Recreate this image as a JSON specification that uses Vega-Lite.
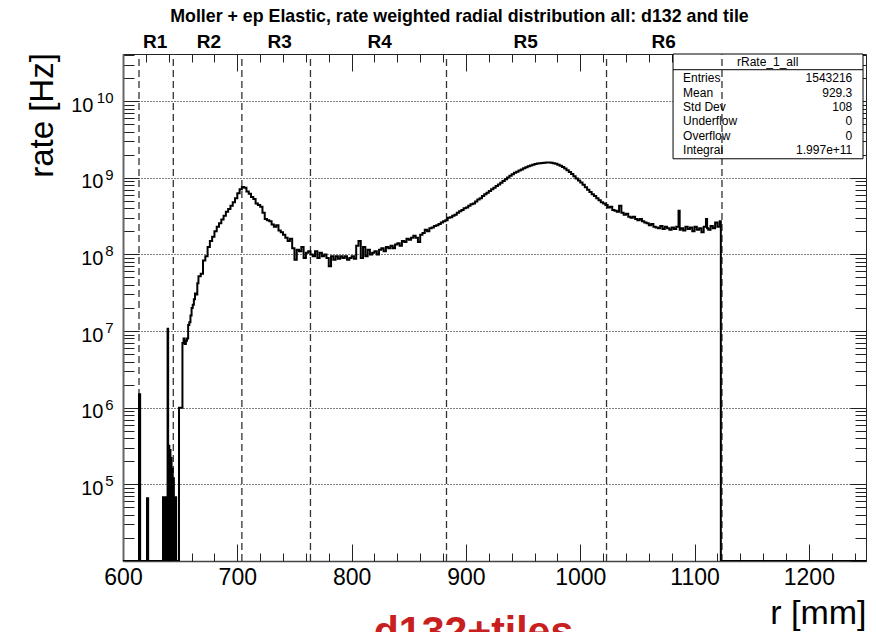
{
  "$schema": "https://vega.github.io/schema/vega-lite/v6.json",
  "width": 743,
  "height": 507,
  "autosize": {"type": "none"},
  "padding": {"left": 123, "top": 54, "right": 10, "bottom": 71},
  "background": "white",
  "title": {
    "text": "Moller + ep Elastic, rate weighted radial distribution all: d132 and tile",
    "font": "Liberation Sans",
    "fontSize": 17.8,
    "fontWeight": "bold",
    "color": "#000",
    "anchor": "middle",
    "frame": "group",
    "dx": -35,
    "offset": 6
  },
  "datasets": {
    "hist": [
      {"r": 600, "rate": 1e4}, {"r": 614, "rate": 1.5e6}, {"r": 615, "rate": 1e4}, {"r": 621, "rate": 6.6e4}, {"r": 622, "rate": 1e4},
      {"r": 635, "rate": 6.8e4}, {"r": 635.5, "rate": 1e4}, {"r": 636, "rate": 6.8e4}, {"r": 636.5, "rate": 1e4}, {"r": 637, "rate": 6.8e4},
      {"r": 637.5, "rate": 1e4}, {"r": 638, "rate": 6.8e4}, {"r": 638.5, "rate": 1e4}, {"r": 639, "rate": 1.07e7}, {"r": 639.5, "rate": 1e4},
      {"r": 640, "rate": 3.2e5}, {"r": 640.5, "rate": 1e4}, {"r": 641, "rate": 2.8e5}, {"r": 641.5, "rate": 1e4}, {"r": 642, "rate": 2.2e5},
      {"r": 642.5, "rate": 1e4}, {"r": 643, "rate": 1.6e5}, {"r": 643.5, "rate": 1e4}, {"r": 644, "rate": 1.2e5}, {"r": 644.5, "rate": 1e4},
      {"r": 645, "rate": 6.8e4}, {"r": 645.5, "rate": 1e4}, {"r": 646, "rate": 6.8e4}, {"r": 646.5, "rate": 1e4}, {"r": 647, "rate": 1e4},
      {"r": 649, "rate": 1.0e6}, {"r": 652, "rate": 7.0e6}, {"r": 653, "rate": 8.0e6}, {"r": 654, "rate": 6.8e6}, {"r": 655, "rate": 7.5e6},
      {"r": 656, "rate": 8.0e6}, {"r": 657, "rate": 1.2e7}, {"r": 658, "rate": 1.3e7}, {"r": 659, "rate": 1.6e7}, {"r": 660, "rate": 2.0e7},
      {"r": 661, "rate": 2.2e7}, {"r": 662, "rate": 2.6e7}, {"r": 663, "rate": 3.1e7}, {"r": 664, "rate": 3.0e7}, {"r": 665, "rate": 4.2e7},
      {"r": 666, "rate": 5.2e7}, {"r": 668, "rate": 5.6e7}, {"r": 670, "rate": 8.3e7}, {"r": 672, "rate": 9.5e7}, {"r": 674, "rate": 1.25e8},
      {"r": 676, "rate": 1.5e8}, {"r": 678, "rate": 1.7e8}, {"r": 680, "rate": 2.0e8}, {"r": 682, "rate": 2.3e8}, {"r": 684, "rate": 2.55e8},
      {"r": 686, "rate": 2.85e8}, {"r": 688, "rate": 3.2e8}, {"r": 690, "rate": 3.6e8}, {"r": 692, "rate": 3.9e8}, {"r": 694, "rate": 4.3e8},
      {"r": 696, "rate": 4.8e8}, {"r": 698, "rate": 5.4e8}, {"r": 700, "rate": 6.3e8}, {"r": 702, "rate": 7.1e8}, {"r": 704, "rate": 7.6e8},
      {"r": 706, "rate": 7.4e8}, {"r": 708, "rate": 6.6e8}, {"r": 710, "rate": 6.2e8}, {"r": 712, "rate": 5.6e8}, {"r": 714, "rate": 5.3e8},
      {"r": 716, "rate": 4.6e8}, {"r": 718, "rate": 4.4e8}, {"r": 720, "rate": 4.2e8}, {"r": 722, "rate": 3.5e8}, {"r": 724, "rate": 2.9e8},
      {"r": 726, "rate": 2.8e8}, {"r": 728, "rate": 2.7e8}, {"r": 730, "rate": 2.45e8}, {"r": 732, "rate": 2.3e8}, {"r": 734, "rate": 2.4e8},
      {"r": 736, "rate": 2.05e8}, {"r": 738, "rate": 1.95e8}, {"r": 740, "rate": 1.8e8}, {"r": 742, "rate": 1.65e8}, {"r": 744, "rate": 1.5e8},
      {"r": 746, "rate": 1.6e8}, {"r": 748, "rate": 1.2e8}, {"r": 750, "rate": 8.5e7}, {"r": 752, "rate": 1.15e8}, {"r": 754, "rate": 1.1e8},
      {"r": 756, "rate": 1.25e8}, {"r": 758, "rate": 9.0e7}, {"r": 760, "rate": 1.05e8}, {"r": 762, "rate": 1.1e8}, {"r": 764, "rate": 1.0e8},
      {"r": 766, "rate": 9.5e7}, {"r": 768, "rate": 1.1e8}, {"r": 770, "rate": 9.0e7}, {"r": 772, "rate": 1.05e8}, {"r": 774, "rate": 9.5e7},
      {"r": 776, "rate": 1.0e8}, {"r": 778, "rate": 9.0e7}, {"r": 780, "rate": 7.0e7}, {"r": 782, "rate": 9.5e7}, {"r": 784, "rate": 8.5e7},
      {"r": 786, "rate": 9.5e7}, {"r": 788, "rate": 8.8e7}, {"r": 790, "rate": 9.5e7}, {"r": 792, "rate": 9.0e7}, {"r": 794, "rate": 9.5e7},
      {"r": 796, "rate": 8.5e7}, {"r": 798, "rate": 9.0e7}, {"r": 800, "rate": 9.5e7}, {"r": 802, "rate": 8.8e7}, {"r": 804, "rate": 1.3e8},
      {"r": 806, "rate": 1.5e8}, {"r": 808, "rate": 9.0e7}, {"r": 810, "rate": 1.25e8}, {"r": 812, "rate": 9.5e7}, {"r": 814, "rate": 1.15e8},
      {"r": 816, "rate": 1.0e8}, {"r": 818, "rate": 1.05e8}, {"r": 820, "rate": 1.1e8}, {"r": 822, "rate": 1.0e8}, {"r": 824, "rate": 1.15e8},
      {"r": 826, "rate": 1.2e8}, {"r": 828, "rate": 1.1e8}, {"r": 830, "rate": 1.25e8}, {"r": 832, "rate": 1.2e8}, {"r": 834, "rate": 1.3e8},
      {"r": 836, "rate": 1.2e8}, {"r": 838, "rate": 1.35e8}, {"r": 840, "rate": 1.4e8}, {"r": 842, "rate": 1.3e8}, {"r": 844, "rate": 1.5e8},
      {"r": 846, "rate": 1.45e8}, {"r": 848, "rate": 1.6e8}, {"r": 850, "rate": 1.55e8}, {"r": 852, "rate": 1.65e8}, {"r": 854, "rate": 1.75e8},
      {"r": 856, "rate": 1.65e8}, {"r": 858, "rate": 1.45e8}, {"r": 860, "rate": 1.8e8}, {"r": 862, "rate": 1.9e8}, {"r": 864, "rate": 2.1e8},
      {"r": 866, "rate": 2.0e8}, {"r": 868, "rate": 2.2e8}, {"r": 870, "rate": 2.25e8}, {"r": 872, "rate": 2.35e8}, {"r": 874, "rate": 2.4e8},
      {"r": 876, "rate": 2.5e8}, {"r": 878, "rate": 2.6e8}, {"r": 880, "rate": 2.7e8}, {"r": 882, "rate": 2.8e8}, {"r": 884, "rate": 3.0e8},
      {"r": 886, "rate": 3.05e8}, {"r": 888, "rate": 3.2e8}, {"r": 890, "rate": 3.3e8}, {"r": 892, "rate": 3.5e8}, {"r": 894, "rate": 3.65e8},
      {"r": 896, "rate": 3.8e8}, {"r": 898, "rate": 4.0e8}, {"r": 900, "rate": 4.1e8}, {"r": 902, "rate": 4.3e8}, {"r": 904, "rate": 4.5e8},
      {"r": 906, "rate": 4.6e8}, {"r": 908, "rate": 4.9e8}, {"r": 910, "rate": 5.2e8}, {"r": 912, "rate": 5.4e8}, {"r": 914, "rate": 5.8e8},
      {"r": 916, "rate": 6.1e8}, {"r": 918, "rate": 6.4e8}, {"r": 920, "rate": 6.7e8}, {"r": 922, "rate": 7.1e8}, {"r": 924, "rate": 7.4e8},
      {"r": 926, "rate": 7.8e8}, {"r": 928, "rate": 8.2e8}, {"r": 930, "rate": 8.6e8}, {"r": 932, "rate": 9.1e8}, {"r": 934, "rate": 9.6e8},
      {"r": 936, "rate": 1.01e9}, {"r": 938, "rate": 1.06e9}, {"r": 940, "rate": 1.11e9}, {"r": 942, "rate": 1.16e9}, {"r": 944, "rate": 1.2e9},
      {"r": 946, "rate": 1.24e9}, {"r": 948, "rate": 1.28e9}, {"r": 950, "rate": 1.33e9}, {"r": 952, "rate": 1.37e9}, {"r": 954, "rate": 1.41e9},
      {"r": 956, "rate": 1.45e9}, {"r": 958, "rate": 1.48e9}, {"r": 960, "rate": 1.51e9}, {"r": 962, "rate": 1.53e9}, {"r": 964, "rate": 1.55e9},
      {"r": 966, "rate": 1.56e9}, {"r": 968, "rate": 1.57e9}, {"r": 970, "rate": 1.58e9}, {"r": 972, "rate": 1.58e9}, {"r": 974, "rate": 1.57e9},
      {"r": 976, "rate": 1.55e9}, {"r": 978, "rate": 1.52e9}, {"r": 980, "rate": 1.48e9}, {"r": 982, "rate": 1.44e9}, {"r": 984, "rate": 1.38e9},
      {"r": 986, "rate": 1.32e9}, {"r": 988, "rate": 1.25e9}, {"r": 990, "rate": 1.19e9}, {"r": 992, "rate": 1.12e9}, {"r": 994, "rate": 1.05e9},
      {"r": 996, "rate": 9.8e8}, {"r": 998, "rate": 9.2e8}, {"r": 1000, "rate": 8.7e8}, {"r": 1002, "rate": 8.1e8}, {"r": 1004, "rate": 7.5e8},
      {"r": 1006, "rate": 7.0e8}, {"r": 1008, "rate": 6.5e8}, {"r": 1010, "rate": 6.1e8}, {"r": 1012, "rate": 5.8e8}, {"r": 1014, "rate": 5.4e8},
      {"r": 1016, "rate": 5.1e8}, {"r": 1018, "rate": 4.8e8}, {"r": 1020, "rate": 4.6e8}, {"r": 1022, "rate": 4.4e8}, {"r": 1024, "rate": 4.1e8},
      {"r": 1026, "rate": 4.2e8}, {"r": 1028, "rate": 3.8e8}, {"r": 1030, "rate": 3.7e8}, {"r": 1032, "rate": 3.6e8}, {"r": 1034, "rate": 4.3e8},
      {"r": 1036, "rate": 3.5e8}, {"r": 1038, "rate": 3.3e8}, {"r": 1040, "rate": 3.4e8}, {"r": 1042, "rate": 3.1e8}, {"r": 1044, "rate": 3.0e8},
      {"r": 1046, "rate": 3.1e8}, {"r": 1048, "rate": 2.9e8}, {"r": 1050, "rate": 2.8e8}, {"r": 1052, "rate": 2.9e8}, {"r": 1054, "rate": 2.7e8},
      {"r": 1056, "rate": 2.6e8}, {"r": 1058, "rate": 2.55e8}, {"r": 1060, "rate": 2.4e8}, {"r": 1062, "rate": 2.5e8}, {"r": 1064, "rate": 2.3e8},
      {"r": 1066, "rate": 2.25e8}, {"r": 1068, "rate": 2.2e8}, {"r": 1070, "rate": 2.35e8}, {"r": 1072, "rate": 2.15e8}, {"r": 1074, "rate": 2.3e8},
      {"r": 1076, "rate": 2.2e8}, {"r": 1078, "rate": 2.1e8}, {"r": 1080, "rate": 2.25e8}, {"r": 1082, "rate": 2.15e8}, {"r": 1084, "rate": 2.3e8},
      {"r": 1086, "rate": 3.7e8}, {"r": 1087, "rate": 2.1e8}, {"r": 1088, "rate": 2.2e8}, {"r": 1090, "rate": 2.05e8}, {"r": 1092, "rate": 2.3e8},
      {"r": 1094, "rate": 2.15e8}, {"r": 1096, "rate": 2.25e8}, {"r": 1098, "rate": 2.0e8}, {"r": 1100, "rate": 2.3e8}, {"r": 1102, "rate": 2.1e8},
      {"r": 1104, "rate": 2.2e8}, {"r": 1106, "rate": 1.95e8}, {"r": 1108, "rate": 2.3e8}, {"r": 1110, "rate": 2.9e8}, {"r": 1111, "rate": 2.2e8},
      {"r": 1112, "rate": 2.1e8}, {"r": 1114, "rate": 2.35e8}, {"r": 1116, "rate": 2.2e8}, {"r": 1118, "rate": 2.6e8}, {"r": 1120, "rate": 2.3e8},
      {"r": 1122, "rate": 2.7e8}, {"r": 1123, "rate": 1e4}, {"r": 1250, "rate": 1e4}
    ],
    "regions": [{"r": 614}, {"r": 644}, {"r": 704}, {"r": 764}, {"r": 883}, {"r": 1023}, {"r": 1124}],
    "stats": [
      {"name": "rRate_1_all",
       "labels": "Entries\nMean\nStd Dev\nUnderflow\nOverflow\nIntegral",
       "vals": "1543216\n929.3\n108\n0\n0\n1.997e+11"}
    ]
  },
  "resolve": {"axis": {"x": "independent", "y": "independent"}},
  "layer": [
    {
      "data": {"name": "stats"},
      "mark": {"type": "rect", "fill": "white", "stroke": "#000", "strokeWidth": 1},
      "encoding": {
        "x": {"datum": 1081.2, "type": "quantitative",
              "scale": {"type": "linear", "domain": [600, 1250], "nice": false, "zero": false},
              "axis": {"orient": "top", "values": [600, 700, 800, 900, 1000, 1100, 1200], "labels": false, "tickSize": -17, "title": null}},
        "x2": {"datum": 1247.4},
        "y": {"datum": 1.77e9, "type": "quantitative",
              "scale": {"type": "log", "domain": [1e4, 4.12e10], "nice": false},
              "axis": {"orient": "left", "values": [1e5, 1e6, 1e7, 1e8, 1e9, 1e10], "labels": false, "tickSize": -16,
                       "grid": true, "gridDash": [1, 2], "gridColor": "#000", "gridWidth": 1, "title": null}},
        "y2": {"datum": 4.12e10}
      }
    },
    {
      "data": {"name": "stats"},
      "mark": {"type": "rule", "stroke": "#000", "strokeWidth": 1},
      "encoding": {
        "x": {"datum": 1081.2, "type": "quantitative",
              "scale": {"type": "linear", "domain": [600, 1250], "nice": false, "zero": false},
              "axis": {"orient": "top", "values": [600, 620, 640, 660, 680, 700, 720, 740, 760, 780, 800, 820, 840, 860, 880, 900, 920, 940, 960, 980, 1000, 1020, 1040, 1060, 1080, 1100, 1120, 1140, 1160, 1180, 1200, 1220, 1240],
                       "labels": false, "tickSize": -8, "title": null}},
        "x2": {"datum": 1247.4},
        "y": {"datum": 2.57e10, "type": "quantitative",
              "scale": {"type": "log", "domain": [1e4, 4.12e10], "nice": false},
              "axis": {"orient": "left", "values": [2e4, 3e4, 4e4, 5e4, 6e4, 7e4, 8e4, 9e4, 2e5, 3e5, 4e5, 5e5, 6e5, 7e5, 8e5, 9e5, 2e6, 3e6, 4e6, 5e6, 6e6, 7e6, 8e6, 9e6, 2e7, 3e7, 4e7, 5e7, 6e7, 7e7, 8e7, 9e7, 2e8, 3e8, 4e8, 5e8, 6e8, 7e8, 8e8, 9e8, 2e9, 3e9, 4e9, 5e9, 6e9, 7e9, 8e9, 9e9, 2e10, 3e10, 4e10],
                       "labels": false, "tickSize": -11, "title": null}}
      }
    },
    {
      "data": {"name": "regions"},
      "mark": {"type": "rule", "stroke": "#333", "strokeWidth": 1.3, "strokeDash": [7, 4]},
      "encoding": {
        "x": {"field": "r", "type": "quantitative",
              "scale": {"type": "linear", "domain": [600, 1250], "nice": false, "zero": false},
              "axis": null},
        "y": {"datum": 1e4, "type": "quantitative",
              "scale": {"type": "log", "domain": [1e4, 4.12e10], "nice": false},
              "axis": {"orient": "left", "values": [1e10], "ticks": false, "domain": false,
                       "labelExpr": "'10'", "labelFontSize": 20, "labelAlign": "right",
                       "labelBaseline": "alphabetic", "labelPadding": 30, "labelOffset": 10, "title": null}},
        "y2": {"datum": 4.12e10}
      }
    },
    {
      "data": {"name": "hist"},
      "mark": {"type": "line", "interpolate": "step-after", "clip": true, "stroke": "#000", "strokeWidth": 2},
      "encoding": {
        "x": {"field": "r", "type": "quantitative",
              "scale": {"type": "linear", "domain": [600, 1250], "nice": false, "zero": false},
              "axis": {"orient": "bottom", "values": [600, 700, 800, 900, 1000, 1100, 1200], "ticks": false, "domain": false,
                       "format": "d", "labelFontSize": 23, "labelPadding": 5,
                       "title": "r [mm]", "titleFontSize": 34, "titleX": 743, "titleY": 62, "titleAlign": "right", "titleBaseline": "alphabetic"}},
        "y": {"field": "rate", "type": "quantitative",
              "scale": {"type": "log", "domain": [1e4, 4.12e10], "nice": false},
              "axis": {"orient": "left", "values": [1e5, 1e6, 1e7, 1e8, 1e9], "ticks": false,
                       "domain": true, "domainColor": "#666", "domainWidth": 2,
                       "labelExpr": "'10'", "labelFontSize": 20, "labelAlign": "right",
                       "labelBaseline": "alphabetic", "labelPadding": 20, "labelOffset": 10,
                       "title": "rate [Hz]", "titleFontSize": 33, "titleX": -81, "titleY": 61, "titleAngle": 270,
                       "titleAlign": "center", "titleBaseline": "middle"}}
      }
    },
    {
      "data": {"name": "stats"},
      "mark": {"type": "text", "fontSize": 12, "align": "center", "baseline": "middle", "color": "#000"},
      "encoding": {
        "text": {"field": "name", "type": "nominal"},
        "x": {"datum": 1164, "type": "quantitative",
              "scale": {"type": "linear", "domain": [600, 1250], "nice": false, "zero": false},
              "axis": {"orient": "top", "values": [627.6, 674.8, 736.7, 824.1, 951.9, 1072.6], "ticks": false, "domain": false,
                       "labelExpr": "datum.value < 650 ? 'R1' : datum.value < 700 ? 'R2' : datum.value < 780 ? 'R3' : datum.value < 900 ? 'R4' : datum.value < 1000 ? 'R5' : 'R6'",
                       "labelFontSize": 19, "labelFontWeight": "bold", "labelBaseline": "alphabetic", "labelPadding": 7, "labelAlign": "center", "title": null}},
        "y": {"datum": 3.26e10, "type": "quantitative",
              "scale": {"type": "log", "domain": [1e4, 4.12e10], "nice": false},
              "axis": {"orient": "right", "values": [1e4, 1e5, 1e6, 1e7, 1e8, 1e9, 1e10], "labels": false, "tickSize": -16, "title": null}}
      }
    },
    {
      "data": {"name": "stats"},
      "mark": {"type": "text", "fontSize": 12, "align": "left", "baseline": "middle", "lineBreak": "\n", "lineHeight": 14.3, "color": "#000"},
      "encoding": {
        "text": {"field": "labels", "type": "nominal"},
        "x": {"datum": 1090, "type": "quantitative",
              "scale": {"type": "linear", "domain": [600, 1250], "nice": false, "zero": false},
              "axis": {"orient": "bottom", "values": [600, 700, 800, 900, 1000, 1100, 1200], "labels": false, "tickSize": -17,
                       "domain": true, "domainColor": "#444", "domainWidth": 1.5, "title": null}},
        "y": {"datum": 1.98e10, "type": "quantitative",
              "scale": {"type": "log", "domain": [1e4, 4.12e10], "nice": false},
              "axis": {"orient": "right", "values": [2e4, 3e4, 4e4, 5e4, 6e4, 7e4, 8e4, 9e4, 2e5, 3e5, 4e5, 5e5, 6e5, 7e5, 8e5, 9e5, 2e6, 3e6, 4e6, 5e6, 6e6, 7e6, 8e6, 9e6, 2e7, 3e7, 4e7, 5e7, 6e7, 7e7, 8e7, 9e7, 2e8, 3e8, 4e8, 5e8, 6e8, 7e8, 8e8, 9e8, 2e9, 3e9, 4e9, 5e9, 6e9, 7e9, 8e9, 9e9, 2e10, 3e10, 4e10],
                       "labels": false, "tickSize": -11, "title": null}}
      }
    },
    {
      "data": {"name": "stats"},
      "mark": {"type": "text", "fontSize": 12, "align": "right", "baseline": "middle", "lineBreak": "\n", "lineHeight": 14.3, "color": "#000"},
      "encoding": {
        "text": {"field": "vals", "type": "nominal"},
        "x": {"datum": 1238, "type": "quantitative",
              "scale": {"type": "linear", "domain": [600, 1250], "nice": false, "zero": false},
              "axis": {"orient": "bottom", "values": [600, 620, 640, 660, 680, 700, 720, 740, 760, 780, 800, 820, 840, 860, 880, 900, 920, 940, 960, 980, 1000, 1020, 1040, 1060, 1080, 1100, 1120, 1140, 1160, 1180, 1200, 1220, 1240],
                       "labels": false, "tickSize": -8,
                       "title": "d132+tiles", "titleFontSize": 41, "titleFontWeight": "bold", "titleColor": "#c8201e",
                       "titleX": 350, "titleY": 83, "titleAlign": "center", "titleBaseline": "alphabetic"}},
        "y": {"datum": 1.98e10, "type": "quantitative",
              "scale": {"type": "log", "domain": [1e4, 4.12e10], "nice": false},
              "axis": {"orient": "left", "values": [1e5, 1e6, 1e7, 1e8, 1e9, 1e10], "ticks": false, "domain": false,
                       "labelExpr": "'' + round(log(datum.value) / LN10)", "labelFontSize": 15, "labelAlign": "right",
                       "labelBaseline": "alphabetic", "labelPadding": 10, "labelOffset": 1.5, "title": null}}
      }
    }
  ],
  "config": {
    "view": {"stroke": "#222", "strokeWidth": 1},
    "font": "Liberation Sans",
    "axis": {
      "grid": false, "domain": false,
      "labelFont": "Liberation Sans", "titleFont": "Liberation Sans",
      "labelColor": "#000", "titleColor": "#000", "tickColor": "#222", "tickWidth": 1,
      "labelFlush": false, "labelOverlap": false, "labelBound": false,
      "titleFontWeight": "normal"
    },
    "text": {"font": "Liberation Sans"}
  }
}
